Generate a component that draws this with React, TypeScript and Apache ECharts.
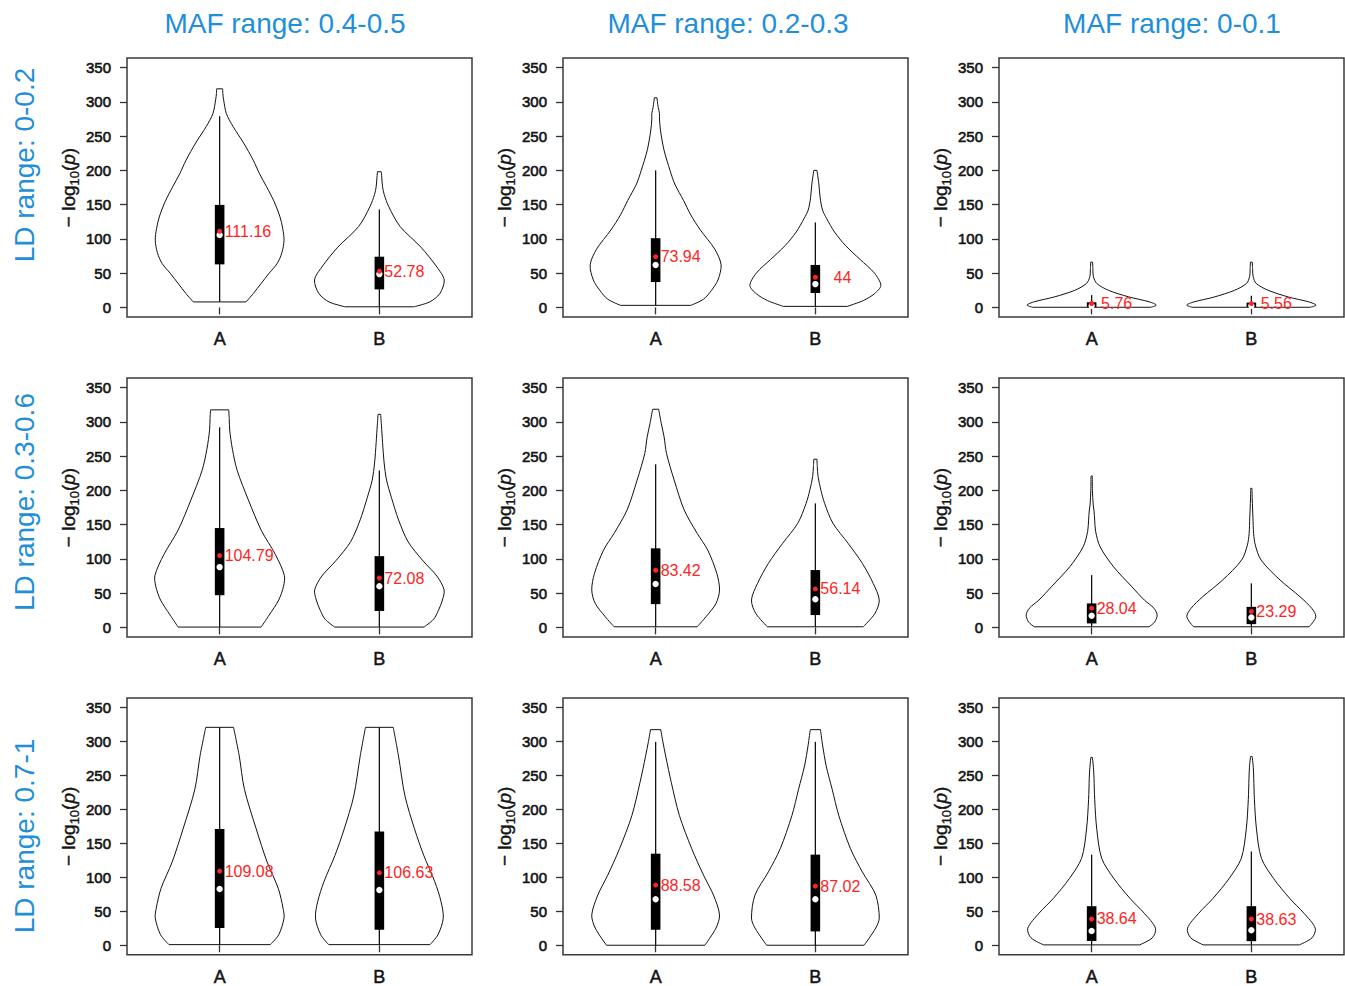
import React, { useEffect, useRef } from "react";
import * as echarts from "echarts";

const colTitles = ["MAF range: 0.4-0.5", "MAF range: 0.2-0.3", "MAF range: 0-0.1"];
const rowTitles = ["LD range: 0-0.2", "LD range: 0.3-0.6", "LD range: 0.7-1"];
const groups = ["A", "B"];
const yTicks = [0, 50, 100, 150, 200, 250, 300, 350];

// mean values (red labels), [row][col][group]
const means = [
  [[111.16, 52.78], [73.94, 44], [5.76, 5.56]],
  [[104.79, 72.08], [83.42, 56.14], [28.04, 23.29]],
  [[109.08, 106.63], [88.58, 87.02], [38.64, 38.63]],
];

// box stats: [lower whisker, q1, median, q3, upper whisker]
const boxesRow1 = [
  [[8, 62.8, 105.6, 149.6, 279], [0, 26.3, 48.6, 74, 143]],
  [[3, 37, 61.8, 101, 200], [1.5, 21, 34, 62, 124]],
  [[0.2, 0.5, 2.5, 7.5, 18], [0.2, 0.5, 2.3, 7, 17]],
];
const boxesRow2 = [
  [[0.5, 47, 88, 145, 292], [0.5, 24, 60, 104, 229]],
  [[0.9, 34, 63.2, 115.4, 238], [0.9, 18, 41, 83.7, 181]],
  [[0.9, 5.8, 17, 35, 76.4], [0.9, 4.8, 14.6, 30, 64.3]],
];
const boxesRow3 = [
  [[0.9, 25.3, 82.7, 171.3, 320.8], [0.9, 22.8, 81.2, 167.4, 320.8]],
  [[0, 22.8, 67.6, 134.8, 299.4], [0, 20.4, 67.6, 133.4, 299.4]],
  [[0.5, 6.3, 21, 57.5, 133.4], [0.5, 6, 22, 57.5, 138]],
];
const boxes = [boxesRow1, boxesRow2, boxesRow3];

// violin outlines: [value, half width of density (x units)], bottom to top
const violinA11 = [[8, 0.165], [20, 0.21], [35, 0.26], [50, 0.31], [64, 0.36], [80, 0.39], [98, 0.403], [115, 0.395], [132, 0.378], [155, 0.34], [176, 0.294], [195, 0.25], [215, 0.21], [240, 0.15], [264, 0.084], [283, 0.042], [303, 0.025], [312, 0.02], [319, 0.019]];
const violinB11 = [[0.9, 0.215], [8, 0.315], [20, 0.378], [40, 0.406], [59, 0.36], [88, 0.26], [118, 0.13], [147, 0.059], [165, 0.03], [176, 0.02], [190, 0.015], [198, 0.012]];
const violinA12 = [[3, 0.22], [12, 0.3], [25, 0.35], [40, 0.39], [62, 0.41], [85, 0.37], [113, 0.28], [135, 0.22], [156, 0.175], [180, 0.12], [200, 0.09], [230, 0.052], [259, 0.03], [275, 0.024], [283, 0.024], [292, 0.016], [306, 0.008]];
const violinB12 = [[1.5, 0.2], [10, 0.3], [20, 0.37], [32, 0.41], [50, 0.37], [70, 0.28], [90, 0.19], [110, 0.12], [130, 0.07], [142, 0.045], [160, 0.03], [180, 0.022], [200, 0.01]];
const violinA13 = [[0.2, 0.37], [3.4, 0.405], [8.2, 0.36], [15.5, 0.23], [25, 0.105], [35, 0.032], [45, 0.011], [55, 0.008], [66, 0.006]];
const violinB13 = [[0.2, 0.37], [3.4, 0.405], [8, 0.36], [15, 0.235], [25, 0.105], [35, 0.03], [45, 0.011], [55, 0.008], [66, 0.006]];
const violinA21 = [[0.5, 0.26], [18, 0.31], [40, 0.37], [60, 0.4], [76, 0.405], [106, 0.35], [142, 0.26], [186, 0.18], [229, 0.11], [260, 0.08], [288, 0.063], [305, 0.06], [317.5, 0.057]];
const violinB21 = [[0.5, 0.28], [12, 0.34], [25, 0.37], [40, 0.395], [55, 0.405], [75, 0.36], [98, 0.27], [125, 0.18], [157, 0.12], [190, 0.075], [215, 0.045], [240, 0.03], [270, 0.02], [295, 0.013], [311, 0.008]];
const violinA22 = [[0.9, 0.26], [15.5, 0.315], [35, 0.378], [54.5, 0.4], [78.8, 0.383], [112.9, 0.326], [137.3, 0.26], [171.3, 0.179], [215, 0.116], [254, 0.068], [278, 0.053], [298, 0.035], [318.4, 0.019]];
const violinB22 = [[0.9, 0.3], [20.4, 0.373], [39.9, 0.4], [64.3, 0.362], [93.5, 0.294], [122.7, 0.205], [152, 0.11], [181, 0.058], [200, 0.035], [220, 0.017], [235, 0.012], [245.4, 0.01]];
const violinA23 = [[0.9, 0.36], [8, 0.395], [18, 0.41], [28, 0.39], [39.9, 0.33], [59.3, 0.252], [88.5, 0.137], [117.7, 0.053], [140, 0.025], [156.7, 0.019], [170, 0.015], [178.6, 0.01], [200, 0.005], [221, 0.004]];
const violinB23 = [[0.9, 0.362], [15.5, 0.404], [27.8, 0.378], [44.7, 0.305], [69.1, 0.18], [98.3, 0.061], [120, 0.025], [137.3, 0.014], [160, 0.01], [171.3, 0.008], [190, 0.005], [203, 0.004]];
const violinA31 = [[0.9, 0.317], [15.5, 0.37], [39.9, 0.403], [54.5, 0.397], [83.7, 0.367], [122.7, 0.297], [171.3, 0.229], [229.8, 0.155], [278.4, 0.123], [320.8, 0.087]];
const violinB31 = [[0.9, 0.317], [15.5, 0.367], [39.9, 0.4], [64.3, 0.386], [93.5, 0.347], [132.3, 0.278], [171.3, 0.22], [220, 0.16], [278.4, 0.12], [320.8, 0.087]];
const violinA32 = [[0, 0.308], [25.3, 0.378], [44.7, 0.4], [73.9, 0.362], [103.1, 0.3], [142.1, 0.226], [190.8, 0.149], [239.6, 0.098], [278.4, 0.063], [300, 0.045], [317.4, 0.032]];
const violinB32 = [[0, 0.305], [25.3, 0.378], [40, 0.4], [73.9, 0.378], [108, 0.294], [142.1, 0.22], [190.8, 0.147], [229.8, 0.105], [263.8, 0.068], [295, 0.045], [317.4, 0.032]];
const violinA33 = [[0.5, 0.3], [11, 0.38], [25, 0.4], [47, 0.33], [69, 0.24], [98, 0.14], [128, 0.063], [171, 0.032], [215, 0.019], [245, 0.015], [259, 0.012], [276.5, 0.005]];
const violinB33 = [[0.5, 0.3], [11, 0.38], [25, 0.4], [47, 0.33], [69, 0.24], [98, 0.14], [128, 0.063], [171, 0.032], [215, 0.019], [245, 0.015], [262, 0.012], [278, 0.005]];

const violins = [
  [[violinA11, violinB11], [violinA12, violinB12], [violinA13, violinB13]],
  [[violinA21, violinB21], [violinA22, violinB22], [violinA23, violinB23]],
  [[violinA31, violinB31], [violinA32, violinB32], [violinA33, violinB33]],
];

const FONT = "'Liberation Sans', Arial, Helvetica, sans-serif";
const BLUE = "#1f8fd9";
const RED = "#ff2424";
const INK = "#141414";

const colLeft = [127, 563, 999];
const rowTop = [58, 378, 698];
const PW = 345;
const PH = 259;
const colTitleX = [285, 728, 1172];
const rowTitleY = [165, 502, 836];
const BOX_HALF = 0.03;

export default function App() {
  const ref = useRef<HTMLDivElement>(null);

  useEffect(() => {
    document.body.style.margin = "0";
    const chart = echarts.init(ref.current!, undefined, { renderer: "svg" });

    const grids: any[] = [];
    const xAxes: any[] = [];
    const yAxes: any[] = [];
    const series: any[] = [];

    for (let r = 0; r < 3; r++) {
      for (let c = 0; c < 3; c++) {
        const gi = r * 3 + c;
        grids.push({
          left: colLeft[c],
          top: rowTop[r],
          width: PW,
          height: PH,
          show: true,
          borderColor: "#3a3a3a",
          borderWidth: 1.5,
          backgroundColor: "transparent",
        });
        xAxes.push({
          gridIndex: gi,
          type: "value",
          min: 0.42,
          max: 2.58,
          splitLine: { show: false },
          axisLine: { show: false },
          axisTick: { show: true, length: 7, customValues: [1, 2], lineStyle: { color: "#333", width: 1.3 } },
          axisLabel: {
            customValues: [1, 2],
            formatter: (v: number) => groups[Math.round(v) - 1],
            margin: 13,
            fontSize: 18,
            color: INK,
            textBorderColor: INK,
            textBorderWidth: 0.5,
            fontFamily: FONT,
          },
        });
        yAxes.push({
          gridIndex: gi,
          type: "value",
          min: -14,
          max: 364,
          splitLine: { show: false },
          axisLine: { show: false },
          axisTick: { show: true, length: 7, customValues: yTicks, lineStyle: { color: "#333", width: 1.3 } },
          axisLabel: {
            customValues: yTicks,
            margin: 16,
            fontSize: 15,
            color: INK,
            textBorderColor: INK,
            textBorderWidth: 0.6,
            fontFamily: FONT,
          },
          name: "{n|− log}{s|10}{n|(}{i|p}{n|)}",
          nameLocation: "middle",
          nameRotate: 90,
          nameGap: 46,
          nameTextStyle: {
            rich: {
              n: { fontSize: 19, fontFamily: FONT, color: INK, textBorderColor: INK, textBorderWidth: 0.4 },
              s: { fontSize: 13, fontFamily: FONT, color: INK, padding: [12, 0, 0, 0], textBorderColor: INK, textBorderWidth: 0.3 },
              i: { fontSize: 19, fontFamily: FONT, color: INK, fontStyle: "italic", textBorderColor: INK, textBorderWidth: 0.4 },
            },
          },
        });
        const rr = r;
        const cc = c;
        series.push({
          type: "custom",
          xAxisIndex: gi,
          yAxisIndex: gi,
          clip: false,
          encode: { x: 0, y: 1 },
          data: groups.map((_, g) => [g + 1, means[rr][cc][g]]),
          renderItem: (params: any, api: any) => {
            const g = params.dataIndex;
            const pos = api.value(0);
            const mean = api.value(1);
            const shape = violins[rr][cc][g];
            const b = boxes[rr][cc][g];
            const right = shape.map(([v, hw]) => api.coord([pos + hw, v]));
            const left = shape.map(([v, hw]) => api.coord([pos - hw, v]));
            const n = shape.length - 1;
            const outline = { stroke: "#111", lineWidth: 1, fill: null };
            const tl = api.coord([pos - BOX_HALF, b[3]]);
            const br = api.coord([pos + BOX_HALF, b[1]]);
            const med = api.coord([pos, b[2]]);
            const mp = api.coord([pos, mean]);
            const wLo = api.coord([pos, b[0]]);
            const wHi = api.coord([pos, b[4]]);
            const label = String(mean);
            // short labels sit further right, as if right-padded to a common width
            const shift = 5 + Math.max(0, 5 - label.length) * 4.4;
            return {
              type: "group",
              children: [
                { type: "polyline", shape: { points: right, smooth: 0.3 }, style: outline },
                { type: "polyline", shape: { points: left, smooth: 0.3 }, style: outline },
                { type: "line", shape: { x1: left[0][0], y1: left[0][1], x2: right[0][0], y2: right[0][1] }, style: outline },
                { type: "line", shape: { x1: left[n][0], y1: left[n][1], x2: right[n][0], y2: right[n][1] }, style: outline },
                { type: "line", shape: { x1: wLo[0], y1: wLo[1], x2: wHi[0], y2: wHi[1] }, style: { stroke: "#111", lineWidth: 1.3 } },
                {
                  type: "rect",
                  shape: { x: tl[0], y: tl[1], width: br[0] - tl[0], height: Math.max(br[1] - tl[1], 1) },
                  style: { fill: "#000" },
                },
                { type: "circle", shape: { cx: med[0], cy: med[1], r: 3.2 }, style: { fill: "#fff" } },
                { type: "circle", shape: { cx: mp[0], cy: mp[1], r: 2.5 }, style: { fill: RED } },
                {
                  type: "text",
                  style: {
                    text: label,
                    x: mp[0] + shift,
                    y: mp[1],
                    align: "left",
                    verticalAlign: "middle",
                    fill: RED,
                    font: `16px ${FONT}`,
                  },
                },
              ],
            };
          },
        });
      }
    }

    const graphics: any[] = [];
    colTitles.forEach((t, c) => {
      graphics.push({
        type: "text",
        x: colTitleX[c],
        y: 23,
        style: { text: t, fill: BLUE, font: `28px ${FONT}`, align: "center", verticalAlign: "middle" },
      });
    });
    rowTitles.forEach((t, r) => {
      graphics.push({
        type: "text",
        x: 24,
        y: rowTitleY[r],
        rotation: Math.PI / 2,
        style: { text: t, fill: BLUE, font: `28px ${FONT}`, align: "center", verticalAlign: "middle" },
      });
    });

    chart.setOption({
      animation: false,
      backgroundColor: "#fff",
      grid: grids,
      xAxis: xAxes,
      yAxis: yAxes,
      series,
      graphic: graphics,
    });

    return () => chart.dispose();
  }, []);

  return <div ref={ref} style={{ width: 1345, height: 986 }} />;
}
